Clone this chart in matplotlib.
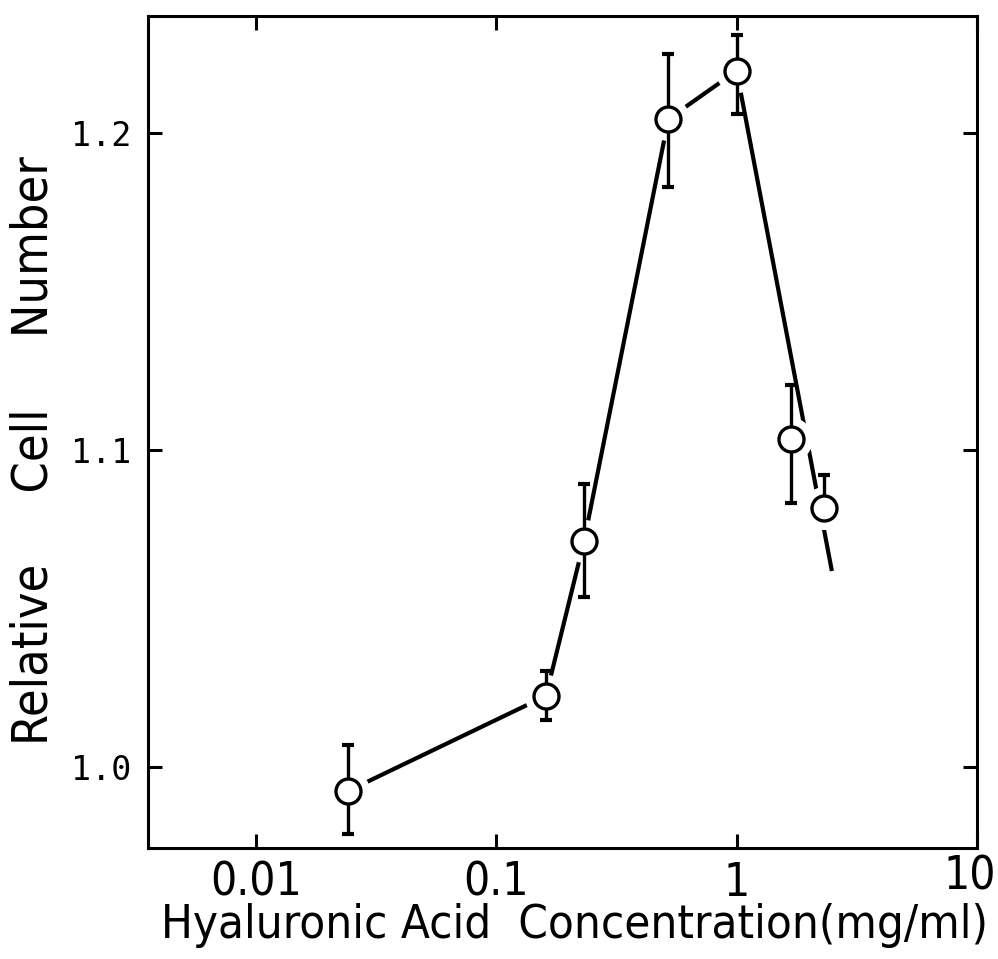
import matplotlib
matplotlib.use("Agg")
import matplotlib.pyplot as plt
import matplotlib.transforms as mtransforms
import numpy as np

# Data
conc = [0.0242, 0.161, 0.232, 0.52, 1.0, 1.68, 2.31]
mean = [0.9924, 1.0224, 1.0713, 1.2044, 1.2196, 1.1035, 1.0817]
err_top = [1.0069, 1.0303, 1.0893, 1.2249, 1.2309, 1.1205, 1.0921]
err_bot = [0.9789, 1.0148, 1.0536, 1.1830, 1.2060, 1.0833, 1.0817]
# connecting trend line (through first five points, then straight down to its end)
line_x = [0.0242, 0.161, 0.232, 0.52, 1.0, 2.49]
line_y = [0.9924, 1.0224, 1.0713, 1.2044, 1.2196, 1.0618]

xticks = [0.01, 0.1, 1, 10]
xticklabels = ["0.01", "0.1", "1", "10"]
yticks = [1.0, 1.1, 1.2]
yticklabels = ["1.0", "1.1", "1.2"]

cond = dict(family="DejaVu Sans", fontstretch="condensed")

fig = plt.figure(figsize=(9.98, 9.59), dpi=100)
ax = fig.add_axes([0.1483, 0.1157, 0.8307, 0.8676])

ax.plot(line_x, line_y, color="black", lw=3.0, zorder=1, solid_capstyle="butt")
ax.plot(conc, mean, linestyle="none", marker="o", markersize=30,
        markerfacecolor="white", markeredgecolor="white", zorder=2)
lower = np.array(mean) - np.array(err_bot)
upper = np.array(err_top) - np.array(mean)
ax.errorbar(conc, mean, yerr=[lower, upper], fmt="none", ecolor="black",
            elinewidth=2.4, capsize=4, capthick=3, zorder=3)
ax.plot(conc, mean, linestyle="none", marker="o", markersize=18,
        markerfacecolor="white", markeredgecolor="black", markeredgewidth=2.4, zorder=4)

ax.set_xscale("log")
ax.set_xlim(0.00356, 10.0)
ax.set_ylim(0.9744, 1.2369)
ax.minorticks_off()
ax.set_xticks(xticks)
ax.set_xticklabels(xticklabels, fontsize=33, **cond)
ax.set_yticks(yticks)
ax.set_yticklabels(yticklabels, fontsize=24, family="DejaVu Sans Mono")

ax.tick_params(axis="both", which="major", direction="in", length=10, width=2.2,
               top=True, right=True, color="black")
ax.tick_params(axis="x", pad=9)
ax.tick_params(axis="y", pad=12)
for s in ax.spines.values():
    s.set_linewidth(2.2)

# the last x tick label sits slightly left/up in the reference, inside the canvas
last = ax.get_xticklabels()[-1]
last.set_transform(last.get_transform() + mtransforms.ScaledTranslation(-7 / 100, 6 / 100, fig.dpi_scale_trans))

ax.set_xlabel("Hyaluronic Acid  Concentration(mg/ml)", fontsize=34, va="center", **cond)
ax.xaxis.set_label_coords(0.515, -0.0925)
ax.set_ylabel("Relative     Cell     Number", fontsize=36, va="center", **cond)
ax.yaxis.set_label_coords(-0.1386, 0.478)

fig.savefig("out.png", dpi=100, facecolor="white")
